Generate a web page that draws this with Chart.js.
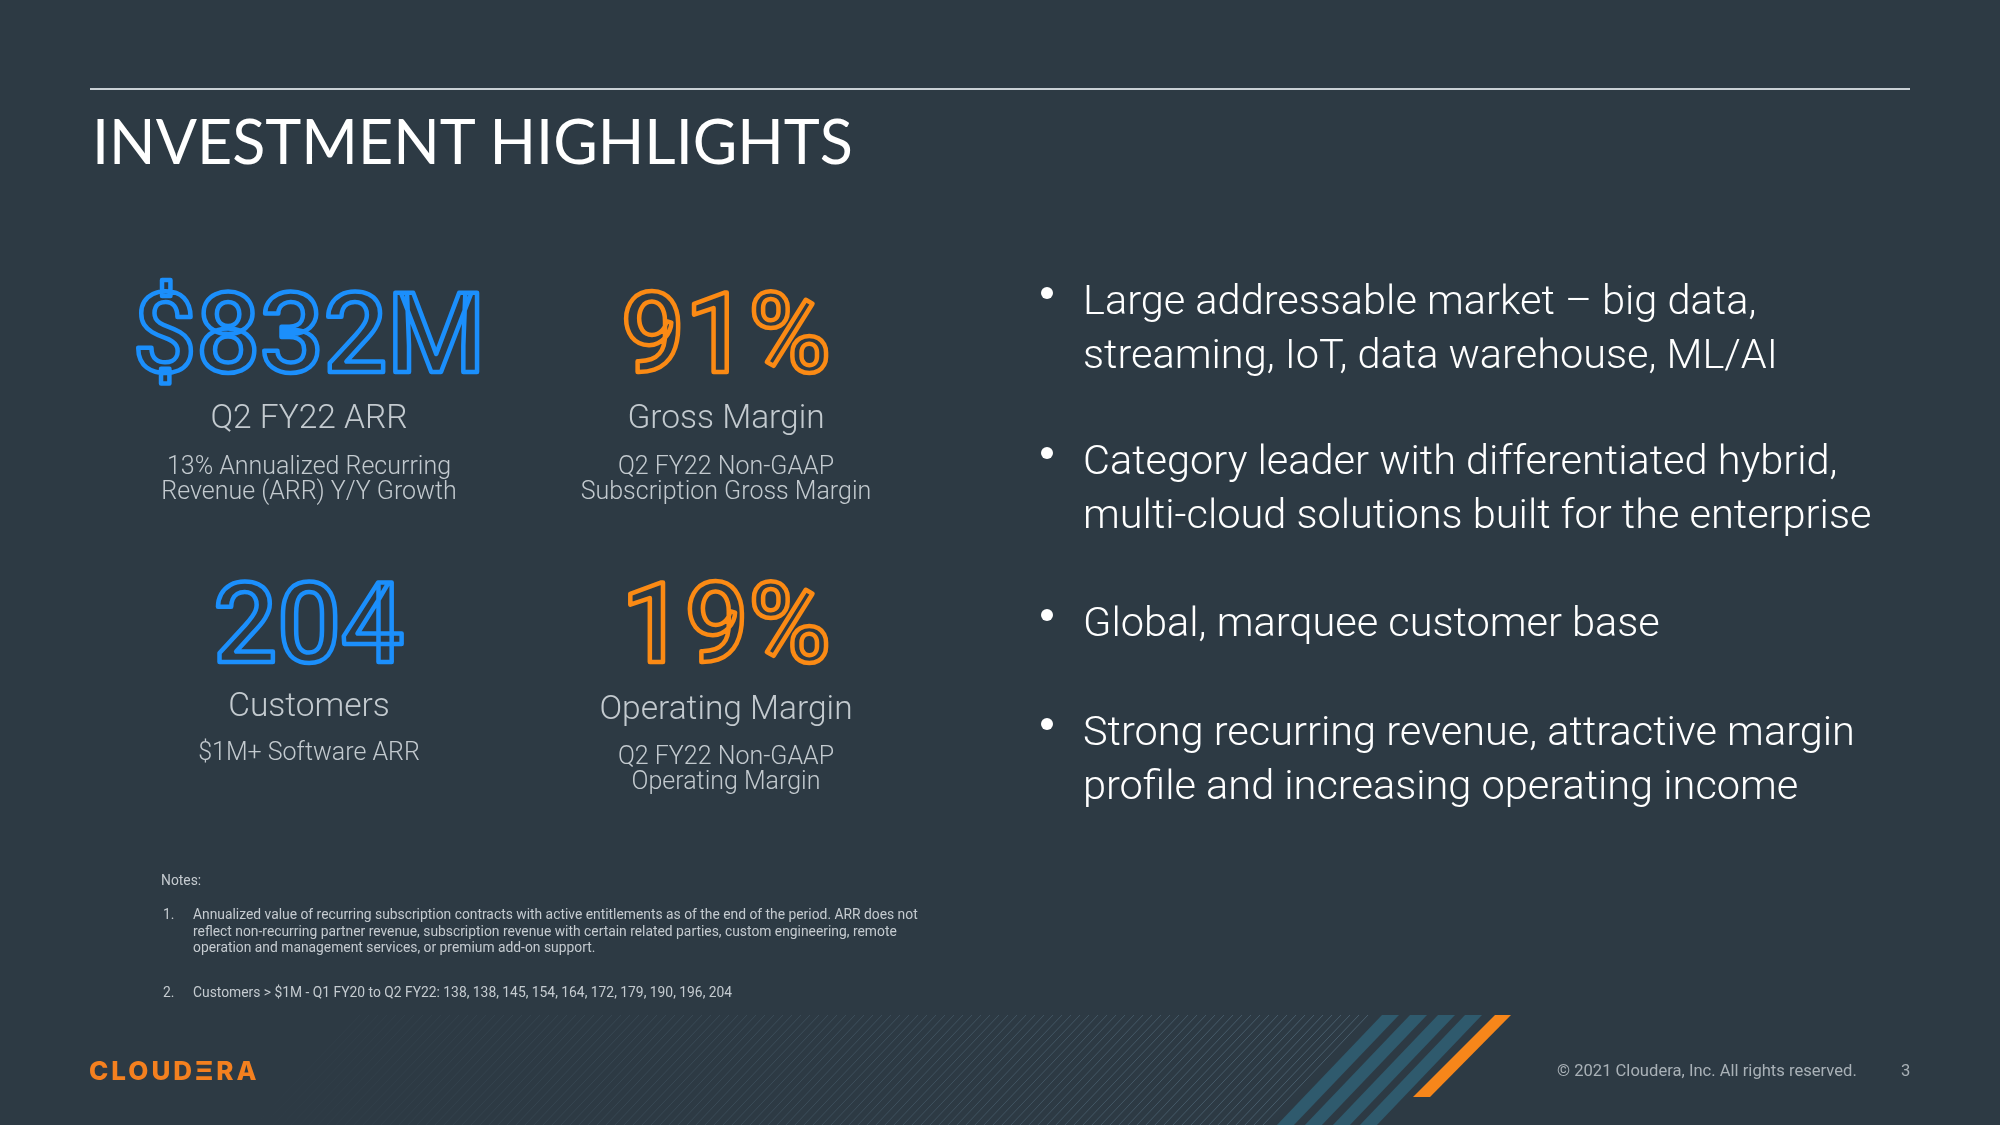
<!DOCTYPE html>
<html>
<head>
<meta charset="utf-8">
<script src="https://cdn.jsdelivr.net/npm/chart.js@4/dist/chart.umd.min.js"></script>
<style>
html,body{margin:0;padding:0;background:#2d3a44;}
#stage{position:relative;width:2000px;height:1125px;overflow:hidden;background:#2d3a44;font-family:Roboto,"Noto Sans",sans-serif;}
#c{position:absolute;left:0;top:0;width:2000px;height:1125px;}
.abs{position:absolute;white-space:nowrap;}
#title{left:92px;top:110px;font-family:Lato,sans-serif;font-weight:400;font-size:61px;line-height:61px;color:#ffffff;}
.klabel{width:500px;text-align:center;font-weight:300;font-size:33.5px;line-height:33.5px;color:#c3cacf;}
.ksub{width:500px;text-align:center;font-weight:300;font-size:25px;line-height:25px;color:#c3cacf;}
.bullet{left:1083px;font-weight:300;font-size:41.5px;line-height:54px;color:#ffffff;}
.dot{position:absolute;width:12px;height:12px;border-radius:50%;background:#ffffff;}
.note{font-size:13.85px;line-height:16.5px;color:#c5cbd0;}
#logo{left:89px;top:1058px;font-family:Inter,sans-serif;font-weight:800;font-size:26px;line-height:26px;color:#f4801f;letter-spacing:3px;}
#copy{left:1557px;top:1063px;font-size:16.6px;line-height:16.6px;color:#a9b1b7;}
#page{left:1901px;top:1063px;font-size:16.6px;line-height:16.6px;color:#a9b1b7;}
</style>
</head>
<body>
<div id="stage">
<canvas id="c" width="2000" height="1125"></canvas>
</div>
<script>
// ---- data ----
const kpiNames = ['ARR', 'Gross Margin', 'Customers', 'Operating Margin'];
const kpiValues = [832, 91, 204, 19];
const kpiPrefixes = ['$', '', '', ''];
const kpiSuffixes = ['M', '%', '', '%'];
const kpiTitles = ['Q2 FY22 ARR', 'Gross Margin', 'Customers', 'Operating Margin'];
const kpiSubtitles = [
  ['13% Annualized Recurring', 'Revenue (ARR) Y/Y Growth'],
  ['Q2 FY22 Non-GAAP', 'Subscription Gross Margin'],
  ['$1M+ Software ARR'],
  ['Q2 FY22 Non-GAAP', 'Operating Margin']
];
const bulletLines = [
  ['Large addressable market \u2013 big data,', 'streaming, IoT, data warehouse, ML/AI'],
  ['Category leader with differentiated hybrid,', 'multi-cloud solutions built for the enterprise'],
  ['Global, marquee customer base'],
  ['Strong recurring revenue, attractive margin', 'profile and increasing operating income']
];
const customerCounts = [138, 138, 145, 154, 164, 172, 179, 190, 196, 204];
const noteLines = [
  ['Annualized value of recurring subscription contracts with active entitlements as of the end of the period. ARR does not',
   'reflect non-recurring partner revenue, subscription revenue with certain related parties, custom engineering, remote',
   'operation and management services, or premium add-on support.'],
  ['Customers > $1M - Q1 FY20 to Q2 FY22: ' + customerCounts.join(', ')]
];

// ---- layout (positions / styles) ----
const kpiLayout = [
  {x: 309, base: 372, color: '#1b8ffc', labelTop: 400, subTop: 453},
  {x: 726, base: 372, color: '#fb8a14', labelTop: 400, subTop: 453},
  {x: 309, base: 662, color: '#1b8ffc', labelTop: 688, subTop: 739},
  {x: 726, base: 662, color: '#fb8a14', labelTop: 691, subTop: 743}
];
const bulletTops = [273, 433, 595, 704];

const stage = document.getElementById('stage');
function esc(s) { return s.replace(/&/g, '&amp;').replace(/</g, '&lt;').replace(/>/g, '&gt;'); }
function addDiv(cls, id, text, style) {
  const d = document.createElement('div');
  d.className = cls;
  if (id) d.id = id;
  d.textContent = text;
  Object.assign(d.style, style || {});
  stage.appendChild(d);
  return d;
}

addDiv('abs', 'title', 'INVESTMENT HIGHLIGHTS');
kpiTitles.forEach((t, i) => {
  const L = kpiLayout[i];
  addDiv('abs klabel', null, t, {left: (L.x - 250) + 'px', top: L.labelTop + 'px'});
  const s = addDiv('abs ksub', null, '', {left: (L.x - 250) + 'px', top: L.subTop + 'px'});
  s.innerHTML = kpiSubtitles[i].map(esc).join('<br>');
});
bulletLines.forEach((lines, i) => {
  const b = addDiv('abs bullet', null, '', {top: bulletTops[i] + 'px'});
  b.innerHTML = lines.map(esc).join('<br>');
  addDiv('dot', null, '', {left: '1041px', top: (bulletTops[i] + 14) + 'px'});
});
addDiv('abs note', null, 'Notes:', {left: '161px', top: '872px'});
const noteTops = [906, 984];
noteLines.forEach((lines, i) => {
  addDiv('abs note', null, (i + 1) + '.', {left: '163px', top: noteTops[i] + 'px'});
  const n = addDiv('abs note', null, '', {left: '193px', top: noteTops[i] + 'px'});
  n.innerHTML = lines.map(esc).join('<br>');
});
addDiv('abs', 'logo', 'CLOUD\u039ERA');
addDiv('abs', 'copy', '\u00A9 2021 Cloudera, Inc. All rights reserved.');
addDiv('abs', 'page', '3');

// ---- chart plugin: slide background + KPI figures ----
const slidePlugin = {
  id: 'slide',
  beforeDraw(chart) {
    const ctx = chart.ctx;
    ctx.save();
    ctx.fillStyle = '#2d3a44';
    ctx.fillRect(0, 0, chart.width, chart.height);
    // top rule
    ctx.fillStyle = '#c9d0d5';
    ctx.fillRect(90, 88, 1820, 2);
    // hatch band
    const yTop = 1015, yBot = 1125, slope = 0.955;
    const g = ctx.createLinearGradient(250, 0, 1380, 0);
    g.addColorStop(0, 'rgba(100,130,150,0)');
    g.addColorStop(0.35, 'rgba(100,130,150,0.18)');
    g.addColorStop(1, 'rgba(100,130,150,0.5)');
    ctx.strokeStyle = g;
    ctx.lineWidth = 1;
    for (let x = 360; x <= 1376; x += 9) {
      ctx.beginPath();
      ctx.moveTo(x, yTop);
      ctx.lineTo(x - (yBot - yTop) * slope, yBot);
      ctx.stroke();
    }
    // blue stripes
    ctx.fillStyle = '#2f5a6d';
    [1382, 1410, 1438, 1465].forEach(x0 => {
      const w = 17, dx = (yBot - yTop) * slope;
      ctx.beginPath();
      ctx.moveTo(x0, yTop); ctx.lineTo(x0 + w, yTop);
      ctx.lineTo(x0 + w - dx, yBot); ctx.lineTo(x0 - dx, yBot);
      ctx.closePath(); ctx.fill();
    });
    // orange stripe
    ctx.fillStyle = '#f7861a';
    ctx.beginPath();
    ctx.moveTo(1495, 1015); ctx.lineTo(1511, 1015);
    ctx.lineTo(1430, 1097); ctx.lineTo(1413, 1097);
    ctx.closePath(); ctx.fill();
    ctx.restore();
  },
  afterDraw(chart) {
    const ctx = chart.ctx;
    ctx.save();
    ctx.font = '500 112px Roboto';
    ctx.textAlign = 'center';
    ctx.textBaseline = 'alphabetic';
    ctx.lineWidth = 4.5;
    ctx.lineJoin = 'round';
    chart.data.datasets[0].data.forEach((v, i) => {
      const L = kpiLayout[i];
      ctx.strokeStyle = L.color;
      ctx.strokeText(kpiPrefixes[i] + v + kpiSuffixes[i], L.x, L.base);
    });
    ctx.restore();
  }
};

function build() {
  new Chart(document.getElementById('c'), {
    type: 'bar',
    data: {
      labels: kpiNames,
      datasets: [{data: kpiValues, backgroundColor: 'rgba(0,0,0,0)', borderWidth: 0}]
    },
    options: {
      responsive: false,
      animation: false,
      devicePixelRatio: 1,
      events: [],
      layout: {padding: 0},
      plugins: {legend: {display: false}, tooltip: {enabled: false}},
      scales: {x: {display: false}, y: {display: false}}
    },
    plugins: [slidePlugin]
  });
}
Promise.all([
  document.fonts.load('500 112px Roboto'),
  document.fonts.load('300 33px Roboto')
]).then(build, build);
</script>
</body>
</html>
